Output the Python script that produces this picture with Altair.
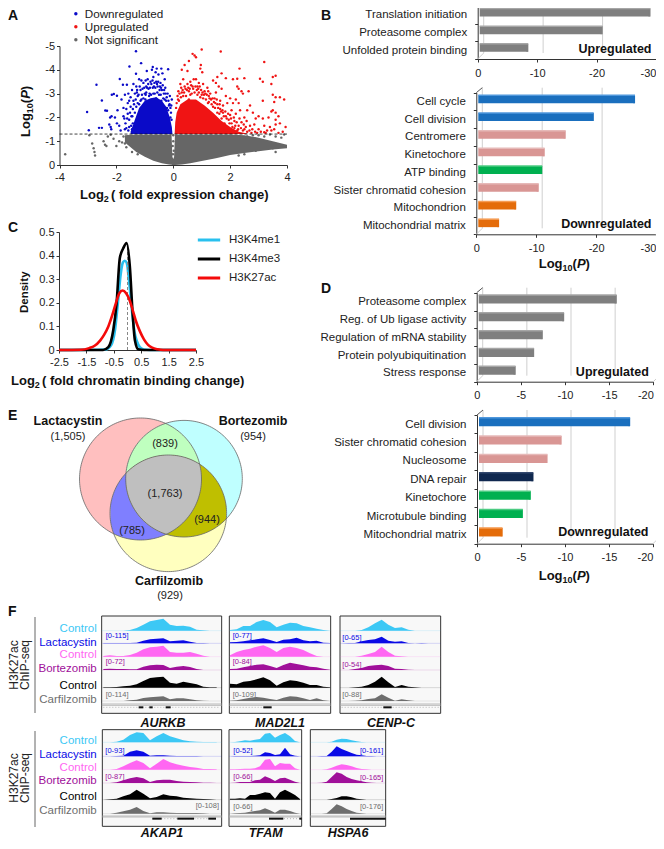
import math
import altair as alt
import pandas as pd

FONT = "Liberation Sans"
W, H = 648, 832
def P(v):
    return v - 8

# ---------- A: volcano ----------
A_LEGEND = ["Downregulated", "Upregulated", "Not significant"]
A_COLORS = ["#0A0AC8", "#F01414", "#666666"]
GREY_CORE_X = [-1.7,-1.5,-1.3,-1,-.7,-.4,-.15,-.06,-.03,0,.03,.06,.3,.6,1,1.5,2,2.5,3,3.5,4]
GREY_CORE_LO = [.95,.75,.55,.35,.18,.07,.02,.01,0,0,0,0,.02,.07,.17,.28,.42,.5,.58,.65,.7]
GREY_CORE_HI = [1.25,1.27,1.28,1.28,1.28,1.28,1.28,1.28,.35,.25,.35,1.28,1.28,1.28,1.28,1.28,1.28,1.25,1.15,1.0,.85]
BLUE_CORE_X = [-1.5,-1.35,-1.2,-1.0,-.8,-.6,-.4,-.25,-.12,-.05,-.03]
BLUE_CORE_HI = [1.4,1.9,2.4,2.7,2.8,2.85,2.7,2.45,2.0,1.6,1.32]
RED_CORE_X = [.05,.07,.12,.25,.5,.8,1.1,1.4,1.7,2.0,2.3,2.6]
RED_CORE_HI = [1.32,1.8,2.2,2.55,2.75,2.75,2.5,2.2,1.85,1.6,1.4,1.32]
BLUE_PTS = [(-1.31,4.78),(-1.13,4.28),(-1.54,4.14),(-1.31,3.83),(-2.70,3.37),(-1.88,3.61),(-3.03,2.23),(-2.97,1.46),
(-2.61,1.56),(-2.51,1.56),(-2.51,2.71),(-2.39,2.29),(-2.33,2.28),(-1.98,2.91),(-2.16,2.95),(-2.09,2.98),(-1.77,3.37),
(-1.63,3.37),(-2.22,2.0),(-2.17,2.05),(-2.25,1.7),(-2.2,1.6),(-2.18,1.5),(-2.05,2.0),(-1.98,1.75),(-1.96,2.3),(-1.9,1.65),
(-1.85,1.45),(-1.82,2.75),(-1.75,2.4),(-1.75,2.05),(-1.7,2.95),(-1.68,1.75),(-1.65,1.55),(-1.6,2.6),(-1.6,2.15),(-1.58,3.0),
(-1.55,1.9),(-1.5,2.85),(-1.5,2.45),(-1.47,2.05),(-1.45,3.15),(-1.42,1.75),(-1.4,2.7),(-1.35,3.0),(-1.3,3.3),(-1.3,2.45),
(-1.25,2.9),(-1.2,3.6),(-1.15,3.15),(-1.12,3.55),(-1.05,3.45),(-1.05,2.8),(-1.0,3.0),(-0.95,3.3),(-0.93,3.95),(-0.9,3.6),
(-0.87,3.2),(-0.85,2.9),(-0.8,3.5),(-0.75,4.0),(-0.72,4.12),(-0.7,3.7),(-0.68,3.3),(-0.65,3.0),(-0.62,3.9),(-0.6,3.5),
(-0.58,4.05),(-0.55,3.3),(-0.52,3.8),(-0.5,2.95),(-0.45,3.45),(-0.42,4.05),(-0.4,3.15),(-0.38,3.85),(-0.35,2.8),(-0.3,3.6),
(-0.28,3.25),(-0.25,2.7),(-0.2,3.0),(-0.18,4.02),(-0.15,2.5),(-0.12,2.9),(-0.08,2.2),(-0.05,2.75),(-1.55,1.6),(-1.45,1.5),
(-1.35,2.2),(-1.25,2.6),(-1.15,2.7),(-1.4,3.4),(-1.1,2.95),(-0.98,2.75),(-0.78,2.95),(-0.6,2.8),(-0.42,2.7),(-0.22,2.4),
(-0.1,2.0),(-1.65,2.35),(-1.55,2.7),(-1.28,3.05),(-0.95,3.05),(-0.72,3.25),(-0.48,3.15),(-0.33,3.0),
(-1.62,1.95),(-1.58,1.45),(-1.52,2.2),(-1.48,1.65),(-1.42,2.35),(-1.38,2.55),(-1.32,2.75),(-1.27,3.15),(-1.22,2.95),(-1.18,3.3),
(-1.08,3.2),(-1.02,3.25),(-0.97,3.55),(-0.92,3.25),(-0.88,3.4),(-0.82,3.25),(-0.77,3.4),(-0.73,3.55),(-0.66,3.45),(-0.63,3.25),
(-0.57,3.4),(-0.53,3.5),(-0.47,3.3),(-0.43,3.25),(-0.37,3.35),(-0.32,3.15),(-0.27,3.0),(-0.23,2.85),(-0.17,2.7),(-0.13,2.55),
(-0.1,2.4),(-0.07,2.5),(-0.06,1.9),(-1.7,1.5),(-1.72,1.95),
(-1.12,2.75),(-0.97,2.95),(-0.83,3.0),(-0.7,3.0),(-0.56,3.05),(-0.44,2.95),(-0.3,2.75),(-0.18,2.3),(-1.2,2.55),(-1.44,2.05)]
RED_PTS = [(1.0,4.85),(0.68,4.67),(0.75,4.6),(0.8,4.53),(1.67,4.77),(0.55,4.37),(0.4,4.2),(0.3,4.0),(0.5,3.95),(0.95,4.05),
(0.97,4.2),(1.02,3.9),(3.2,4.33),(2.33,4.05),(1.7,3.85),(1.55,3.7),(1.85,3.65),(2.1,3.6),(2.25,3.62),(2.5,3.65),(2.25,3.3),
(2.3,3.2),(2.4,3.1),(2.45,3.0),(2.65,3.1),(3.05,3.62),(3.15,3.5),(3.5,3.7),(3.6,3.75),(3.45,3.4),(3.5,2.95),(3.6,2.85),
(3.75,2.85),(3.9,2.75),(3.15,2.7),(3.55,2.65),(3.5,2.3),(3.6,2.2),(3.45,2.25),(3.95,1.6),(3.75,1.75),(3.6,1.7),(3.4,1.6),
(3.3,1.45),(3.45,1.45),(3.55,1.5),(3.0,1.5),(2.85,1.7),(2.9,1.95),(3.0,2.05),(3.15,1.95),(3.2,1.65),(2.7,1.65),(2.55,1.6),
(2.4,1.8),(2.5,2.0),(2.6,2.3),(2.35,2.3),(2.2,2.15),(2.05,2.3),(2.3,2.6),(2.2,2.75),(2.0,2.8),(1.9,2.6),(2.1,2.6),(1.85,2.9),
(1.7,3.2),(1.6,3.3),(1.5,3.45),(1.4,3.55),(1.3,3.0),(1.2,3.25),(1.1,3.1),(1.05,3.4),(0.9,3.45),(0.85,3.3),(0.8,3.6),(0.72,3.6),
(0.68,3.3),(0.6,3.5),(0.55,3.1),(0.5,3.4),(0.4,3.3),(0.35,3.6),(0.3,3.05),(0.25,3.4),(0.2,2.7),(0.15,2.9),(0.1,2.4),(1.25,2.9),
(1.45,2.8),(1.55,2.55),(1.65,2.35),(1.75,2.2),(1.85,2.05),(1.95,1.9),(2.05,1.75),(2.15,1.55),(2.25,1.45),(1.8,1.75),(2.45,1.45),
(2.6,1.4),(2.75,1.35),(2.95,1.35),(3.2,1.38),(3.7,1.35),(3.85,1.4),(1.0,2.95),(0.9,3.05),(0.75,3.05),(0.45,2.9),(1.15,2.75),
(1.35,2.55),(1.55,2.2),(1.7,1.95),(2.7,2.5),(2.8,2.2),(3.6,1.9),(0.65,3.0),(0.95,2.85),(0.55,2.75),(1.4,2.45),(1.25,2.65),
(1.65,2.7),(1.5,3.05),(1.75,2.5),(2.0,2.1),(2.15,1.85),(2.3,1.65),(2.5,1.5),
(0.18,3.1),(0.22,3.0),(0.28,3.25),(0.33,3.15),(0.38,3.05),(0.43,3.2),(0.48,3.15),(0.53,3.25),(0.58,3.2),(0.63,3.35),(0.7,3.2),
(0.78,3.3),(0.83,3.15),(0.88,3.2),(0.93,3.3),(0.98,3.15),(1.03,3.05),(1.08,2.95),(1.13,3.0),(1.18,2.95),(1.23,3.1),(1.28,2.8),
(1.33,2.75),(1.38,2.8),(1.43,2.65),(1.48,2.6),(1.53,2.75),(1.58,2.4),(1.63,2.55),(1.68,2.25),(1.73,2.3),(1.78,2.05),(1.83,2.25),
(1.88,1.95),(1.93,2.15),(1.98,1.75),(2.03,1.95),(2.08,1.6),(2.13,2.0),(2.18,1.65),(2.23,1.8),(2.28,1.5),(2.33,1.95),(2.38,1.55),
(2.48,1.7),(2.58,1.85),(2.68,1.45),(2.78,1.5),(2.88,1.4),(3.08,1.4),(3.25,1.35),(3.35,2.0),(3.7,2.05),
(0.12,2.6),(0.17,2.75),(0.27,2.85),(0.35,2.9),(0.6,2.95),(0.85,2.95),(1.05,2.8),(1.22,2.6),(1.47,2.4),(1.62,2.15)]
GREY_PTS = [(-3.8,0.45),(-2.85,0.9),(-2.8,0.7),(-2.77,0.55),(-2.75,0.4),(-2.95,1.25),(-2.45,1.0),(-2.4,0.85),(-2.35,0.8),
(-2.1,1.1),(-2.0,0.8),(-1.9,1.0),(-1.75,1.2),(-1.7,0.9),(-1.65,0.75),(-1.55,1.05),(-1.45,0.55),(-1.35,0.7),(-1.25,0.45),
(-1.8,0.95),(-2.3,1.2),(-2.2,1.27),(0.0,1.25),(0.0,1.0),(-0.02,0.8),(0.02,0.6),(-0.01,0.45),(3.0,1.25),(3.2,1.2),(3.4,1.28),
(3.6,1.2),(3.8,1.15),(3.9,1.28),(3.5,0.7),(3.6,0.55),(2.6,1.2),(2.8,1.25),(2.5,0.45),(2.3,0.4),(2.9,0.6)]

# ---------- C: density ----------
BLACK_X = [-2.5,-.89,-.7,-.52,-.4,-.28,-.16,-.03,.085,.18,.27,.39,.6,2.5]
BLACK_Y = [0,0,.012,.084,.197,.39,.43,.453,.354,.169,.041,.003,0,0]
CYAN_X = [-2.5,-.8,-.6,-.45,-.35,-.25,-.17,-.1,-.03,.05,.15,.25,.35,.45,.6,.8,2.5]
CYAN_Y = [0,.002,.02,.09,.2,.32,.37,.378,.37,.3,.18,.08,.035,.012,.002,0,0]
RED_X = [-2.5,-1.7,-1.4,-1.2,-1.0,-.85,-.7,-.55,-.42,-.3,-.18,-.05,.08,.2,.3,.45,.6,.75,.9,1.1,1.3,2.5]
RED_Y = [0,.001,.008,.018,.04,.065,.1,.15,.2,.24,.252,.24,.21,.165,.125,.08,.045,.022,.01,.003,0,0]
C_NAMES = ["H3K4me1", "H3K4me3", "H3K27ac"]
C_COLORS = ["#29C0EE", "#000000", "#F40A0A"]

# ---------- B / D: bars ----------
GROUPS = ["none", "cycle", "centro", "atp", "mito", "repair"]
FACE = ["#7F7F7F", "#1A6FBE", "#D99694", "#00B050", "#E46C0A", "#10284F"]
SIDE = ["#555555", "#124E87", "#A86A68", "#007A38", "#A34C06", "#0A1A33"]
TOP = ["#A6A6A6", "#4F97DC", "#E6B9B8", "#4CCB82", "#F59D56", "#33486E"]
B1_TERMS = ["Translation initiation", "Proteasome complex", "Unfolded protein binding\u00a0"]
B1_VALS = [-29.05, -21.0, -8.5]
B1_GRP = ["none", "none", "none"]
B2_TERMS = ["Cell cycle\u00a0", "Cell division", "Centromere", "Kinetochore", "ATP binding",
            "Sister chromatid cohesion", "Mitochondrion", "Mitochondrial matrix"]
B2_VALS = [-26.5, -19.6, -14.9, -11.4, -11.0, -10.4, -6.65, -3.8]
B2_GRP = ["cycle", "cycle", "centro", "centro", "atp", "centro", "mito", "mito"]
D1_TERMS = ["Proteasome complex", "Reg. of Ub ligase activity", "Regulation of mRNA stability",
            "Protein polyubiquitination", "Stress response\u00a0"]
D1_VALS = [-15.85, -9.9, -7.47, -6.5, -4.4]
D1_GRP = ["none"] * 5
D2_TERMS = ["Cell division", "Sister chromatid cohesion", "Nucleosome", "DNA repair", "Kinetochore",
            "Microtubule binding", "Mitochondrial matrix"]
D2_VALS = [-17.4, -9.6, -8.0, -6.4, -6.1, -5.2, -2.9]
D2_GRP = ["cycle", "centro", "centro", "repair", "atp", "atp", "mito"]

# ---------- E: Venn ----------
VENN_CX = [140.5, 184.0, 168.3]
VENN_CY = [479.0, 478.7, 513.3]
VENN_R = [61.0, 58.3, 58.3]
VENN_FILL = ["#FFBFBF", "#BFFFFF", "#FFFFBF"]
VENN_PAIRS = [((0, 1), "#BFFFBF"), ((0, 2), "#7F7FFF"), ((1, 2), "#BFBF00"), ((0, 1, 2), "#BFBFBF")]
VENN_TXT = [("Lactacystin", 68, 421, True), ("(1,505)", 68, 436, False), ("Bortezomib", 253, 421, True),
            ("(954)", 253, 436, False), ("Carfilzomib", 169, 581, True), ("(929)", 170, 595, False),
            ("(839)", 165, 443, False), ("(1,763)", 165, 493, False), ("(785)", 132, 530, False), ("(944)", 207, 519, False)]

# ---------- F: tracks (heights in reference zoom units) ----------
TRACK_COLORS = ["#3CC8F5", "#0A0AE6", "#FF66F2", "#A0109A", "#000000", "#6E6E6E"]
TRACK_NAMES = ["Control", "Lactacystin", "Control", "Bortezomib", "Control", "Carfilzomib"]
AURKB_X = [310,330,350,370,390,410,430,450,470,490,510,530,550,570,590,610,630,650]
AURKB = [[0,0,0,0,2,8,18,28,32,36,18,14,15,12,3,1,0,0],[1,1,1,1,1,2,8,12,14,15,6,8,9,5,1,1,0,0],
         [2,4,2,2,5,12,22,28,30,33,14,12,12,14,9,3,0,0],[3,4,3,3,2,2,10,14,16,15,6,10,12,9,3,0,0,0],
         [1,1,2,4,6,10,20,29,31,33,15,12,18,14,10,3,1,1],[0,0,0,0,2,4,9,11,13,14,5,8,8,5,2,1,0,0]]
MAD2L1_X = [690,710,730,750,770,790,810,830,850,870,890,910,930,950,970,990]
MAD2L1 = [[2,4,14,14,26,32,26,10,18,24,22,14,10,6,2,0],[3,4,6,9,12,15,10,4,11,12,17,9,6,8,2,1],
          [4,14,20,24,30,34,26,14,26,30,26,20,10,2,0,0],[3,4,8,12,16,17,12,6,15,22,18,14,10,8,4,1],
          [12,10,18,20,25,31,22,6,16,22,20,15,8,8,3,1],[1,2,6,10,12,10,6,3,10,14,13,8,3,8,2,0]]
CENPC_X = [1025,1045,1065,1085,1105,1125,1145,1165,1185,1205,1225,1245,1265,1285,1305,1320]
CENPC = [[0,0,0,2,10,22,33,18,8,10,3,0,0,0,0,0],[0,1,1,6,10,12,20,8,5,6,1,0,1,0,0,0],
         [0,0,0,3,8,14,30,14,3,1,0,0,0,0,0,0],[0,0,3,6,12,14,16,12,4,3,1,0,0,0,0,0],
         [0,0,1,3,8,18,33,16,2,8,3,1,0,0,0,0],[0,0,1,2,6,8,20,10,1,5,2,0,0,0,0,0]]
AKAP1_X = [310,330,350,370,390,410,430,450,470,490,510,530,550,570,590,610,630,650]
AKAP1 = [[0,0,2,8,22,30,28,6,18,28,18,12,6,3,2,1,1,1],[0,0,1,2,14,18,14,2,3,3,2,1,1,1,1,0,0,0],
         [0,0,2,10,20,28,20,4,18,32,22,16,12,8,6,2,2,1],[0,0,2,8,14,18,14,3,8,10,10,6,4,3,2,1,1,0],
         [0,1,3,10,16,30,18,4,8,16,12,10,6,4,3,2,1,0],[0,0,3,7,12,20,8,1,4,4,3,2,2,2,2,1,0,0]]
TFAM_X = [690,705,720,735,750,765,780,795,810,825,840,855,870,885,900]
TFAM = [[0,1,3,6,5,8,10,26,28,14,22,28,18,4,0],[0,1,1,1,1,2,3,12,10,4,6,26,6,2,0],
        [1,1,2,3,3,4,10,30,32,10,20,18,18,4,0],[0,1,3,3,3,8,10,20,14,6,14,16,10,4,0],
        [3,3,4,3,14,14,18,22,20,3,22,30,22,14,2],[0,1,2,3,6,8,10,16,10,3,12,12,8,3,0]]
HSPA6_X = [935,950,965,980,995,1010,1025,1040,1055,1070,1085,1100,1115,1130,1145]
HSPA6 = [[0,0,0,0,2,8,11,10,6,3,1,0,0,0,0],[0,0,1,1,14,30,22,16,10,5,3,1,1,0,0],
         [0,0,0,1,6,12,16,14,10,5,2,1,0,0,0],[0,0,1,4,18,32,28,18,12,8,5,2,1,0,0],
         [0,0,0,0,2,5,10,10,7,3,1,0,0,0,0],[0,0,0,1,14,28,22,14,8,3,1,0,0,0,0]]

ROW1 = dict(y0=600, bases=[92,130,170,210,263,303], top=48, bot=340, seps=[312,316], gene=322,
            label_y=[628,641.7,654,667.7,685,699], line=(617,713), title_y=723, side_y=665)
ROW2 = dict(y0=718, bases=[73,115,155,195,245,287], top=35, bot=325, seps=[294,297], gene=302,
            label_y=[740,753.7,766.7,780,796,809.7], line=(731,827), title_y=833, side_y=778)
BOXES = [
    ("AURKB", ROW1, 305, 665, 163, AURKB_X, AURKB, [(416,430),(448,458),(497,512)], (310,660),
     [("[0-115]",317,106,1,"left"),("[0-72]",317,183,3,"left"),("[0-114]",317,282,5,"left")]),
    ("MAD2L1", ROW1, 688, 992, 280, MAD2L1_X, MAD2L1, [(790,815)], (692,815),
     [("[0-77]",698,105,1,"left"),("[0-84]",698,183,3,"left"),("[0-109]",698,282,5,"left")]),
    ("CENP-C", ROW1, 1020, 1322, 391, CENPC_X, CENPC, [(1150,1175)], (1025,1320),
     [("[0-65]",1027,113,1,"left"),("[0-54]",1027,193,3,"left"),("[0-88]",1027,282,5,"left")]),
    ("AKAP1", ROW2, 307, 665, 162, AKAP1_X, AKAP1, [(457,485),(532,582),(625,648)], (457,648),
     [("[0-93]",316,97,1,"left"),("[0-87]",316,175,3,"left"),("[0-108]",657,263,5,"right")]),
    ("TFAM", ROW2, 687, 905, 265.7, TFAM_X, TFAM, [(807,850),(898,905)], (807,905),
     [("[0-52]",700,97,1,"left"),("[0-66]",700,175,3,"left"),("[0-66]",700,264,5,"left")]),
    ("HSPA6", ROW2, 931, 1157, 348, HSPA6_X, HSPA6, [(1050,1157)], (1050,1157),
     [("[0-161]",1150,97,1,"right"),("[0-165]",1150,177,3,"right"),("[0-176]",1150,264,5,"right")]),
]
LETTERS = [("A", 15), ("C", 227), ("E", 415), ("F", 611)]
LETTERS_R = [("B", 15), ("D", 288)]

ONE = pd.DataFrame({"a": [0]})
layers = []

def txt(s, x, y, size=11, bold=False, italic=False, color="#222222", align="left", angle=0):
    kw = {}
    if angle:
        kw["angle"] = angle
    return alt.Chart(ONE).mark_text(text=s, font=FONT, fontSize=size, fontWeight="bold" if bold else "normal",
                                    fontStyle="italic" if italic else "normal", color=color, align=align,
                                    baseline="alphabetic", **kw).encode(x=alt.value(P(x)), y=alt.value(P(y)))

def logp(x, y, vertical=False):
    parts = [("Log", 13, False, 0, 0), ("10", 9, False, 3, 23.8), ("(", 13, False, 0, 33.8),
             ("P", 13, True, 0, 38.2), (")", 13, False, 0, 46.8)]
    out = []
    for s, sz, it, d, adv in parts:
        if vertical:
            out.append(txt(s, x + d, y - adv, sz, True, it, "#111111", angle=270))
        else:
            out.append(txt(s, x + adv, y + d, sz, True, it, "#111111"))
    return out

def log2title(rest, x, y):
    return [txt("Log", x, y, 13, True, color="#111111"), txt("2", x + 23.8, y + 3, 9, True, color="#111111"),
            txt(rest, x + 31, y, 13, True, color="#111111")]

HYPHEN = "replace(datum.label, '\u2212', '-')"
AX = dict(domainColor="#333333", tickColor="#333333", labelColor="#222222", labelFont=FONT, labelFontSize=11,
          tickSize=3, title=None, grid=False, domainWidth=1, tickWidth=1, labelOverlap=False, labelFlush=False)

# ---- Panel A
xA = alt.Scale(domain=[-4, 4], range=[P(59.5), P(287)], nice=False, zero=False)
yA = alt.Scale(domain=[0, -5], range=[P(165), P(46)], nice=False, zero=False)
axAx = alt.Axis(orient="bottom", offset=P(165) - H, values=[-4, -2, 0, 2, 4], labelPadding=3, labelExpr=HYPHEN, **AX)
axAy = alt.Axis(orient="left", offset=-P(59.5), values=[0, -1, -2, -3, -4, -5], labelPadding=2, labelExpr=HYPHEN, **AX)
grey_df = pd.DataFrame({"x": GREY_CORE_X, "lo": [-v for v in GREY_CORE_LO], "hi": [-v for v in GREY_CORE_HI]})
blue_df = pd.DataFrame({"x": BLUE_CORE_X, "lo": -1.3, "hi": [-v for v in BLUE_CORE_HI]})
red_df = pd.DataFrame({"x": RED_CORE_X, "lo": -1.3, "hi": [-v for v in RED_CORE_HI]})
pts = [dict(x=a, y=-b, g=A_LEGEND[0]) for a, b in BLUE_PTS] + [dict(x=a, y=-b, g=A_LEGEND[1]) for a, b in RED_PTS] + \
      [dict(x=a, y=-b, g=A_LEGEND[2]) for a, b in GREY_PTS]
def core(df, c):
    return alt.Chart(df).mark_area(color=c, opacity=1).encode(
        x=alt.X("x:Q", scale=xA, axis=axAx), y=alt.Y("lo:Q", scale=yA, axis=axAy), y2="hi:Q")
panelA = alt.layer(
    alt.Chart(pd.DataFrame(pts)).mark_circle(size=6, opacity=1).encode(
        x=alt.X("x:Q", scale=xA, axis=axAx), y=alt.Y("y:Q", scale=yA, axis=axAy),
        color=alt.Color("g:N", scale=alt.Scale(domain=A_LEGEND, range=A_COLORS),
                        legend=alt.Legend(orient="none", legendX=P(70), legendY=P(8), title=None, labelFont=FONT,
                                          labelFontSize=11.7, labelColor="#222222", symbolSize=12, symbolType="circle",
                                          rowPadding=0, labelOffset=3, symbolOffset=0, padding=0))),
    core(grey_df, A_COLORS[2]), core(blue_df, A_COLORS[0]), core(red_df, A_COLORS[1]),
    alt.Chart(pd.DataFrame({"y": [-1.3]})).mark_rule(color="#111111", strokeDash=[3, 2], strokeWidth=0.8).encode(
        y=alt.Y("y:Q", scale=yA, axis=axAy), x=alt.value(P(59.5)), x2=alt.value(P(287))),
)
layers.append(panelA)
layers += logp(30, 137, True)
layers += log2title("( fold expression change)", 80, 199)

# ---- Panel C
xC = alt.Scale(domain=[-2.5, 2.5], range=[P(59), P(196)], nice=False, zero=False)
yC = alt.Scale(domain=[0, 0.5], range=[P(350), P(232)], nice=False, zero=False)
axCx = alt.Axis(orient="bottom", offset=P(350) - H, values=[-2.5, -1.5, -0.5, 0.5, 1.5, 2.5], format=".1f", labelExpr=HYPHEN, labelPadding=3, **AX)
axCy = alt.Axis(orient="left", offset=-P(59), values=[0, .1, .2, .3, .4, .5], format="~g", labelPadding=2, **AX)
curves = []
for n, xs, ys in [(C_NAMES[0], CYAN_X, CYAN_Y), (C_NAMES[1], BLACK_X, BLACK_Y), (C_NAMES[2], RED_X, RED_Y)]:
    curves += [dict(x=a, y=b, n=n, o=i) for i, (a, b) in enumerate(zip(xs, ys))]
curve_df = pd.DataFrame(curves)
def cline(name):
    return alt.Chart(curve_df[curve_df.n == name]).mark_line(strokeWidth=2.6, interpolate="monotone").encode(
        x=alt.X("x:Q", scale=xC, axis=axCx),
        y=alt.Y("y:Q", scale=yC, axis=axCy),
        order="o:Q",
        color=alt.Color("n:N", scale=alt.Scale(domain=C_NAMES, range=C_COLORS),
                        legend=alt.Legend(orient="none", legendX=P(196), legendY=P(227), title=None, labelFont=FONT,
                                          labelFontSize=11.5, labelColor="#222222", symbolType="stroke", symbolSize=500,
                                          symbolStrokeWidth=3, rowPadding=-6, padding=0, labelOffset=7)))
panelC = alt.layer(
    cline(C_NAMES[0]),
    alt.Chart(pd.DataFrame({"x": [0, 0], "y": [0, 0.45]})).mark_line(color="#888888", strokeDash=[3, 2], strokeWidth=1).encode(
        x=alt.X("x:Q", scale=xC, axis=axCx), y=alt.Y("y:Q", scale=yC, axis=axCy)),
    cline(C_NAMES[1]), cline(C_NAMES[2]),
)
layers.append(panelC)
layers += log2title("( fold chromatin binding change)", 11, 385)
layers.append(txt("Density", 28, 313, 11.5, True, color="#111111", angle=270))

# ---- Bars
def bars(terms, vals, grp, x0, x1, ytop, ybot, dom, ticks, h, word, word_y):
    xs = alt.Scale(domain=[0, dom], range=[P(x0), P(x1)], nice=False, zero=False)
    ys = alt.Scale(domain=terms, range=[P(ytop), P(ybot)], paddingInner=0, paddingOuter=0)
    ys2 = alt.Scale(domain=terms, range=[P(ytop) - 2.3, P(ybot) - 2.3], paddingInner=0, paddingOuter=0)
    ys3 = alt.Scale(domain=terms, range=[P(ytop) - 2.3 - h / 2, P(ybot) - 2.3 - h / 2], paddingInner=0, paddingOuter=0)
    df = pd.DataFrame({"t": terms, "v": vals, "g": grp, "z": 0})
    grid = pd.DataFrame({"x": [t for t in ticks if t != 0]})
    axx = alt.Axis(orient="bottom", offset=P(ybot) - H, values=ticks, labelPadding=5, labelExpr=HYPHEN,
                   labelAlign={"condition": {"test": f"datum.value == {dom}", "value": "right"}, "value": "center"}, **AX)
    axy = alt.Axis(orient="left", offset=-P(x0), tickBand="extent", labelPadding=8, labelOffset=0, labelLimit=200,
                   **{**AX, "labelFontSize": 11.5})
    def col(rng):
        return alt.Color("g:N", scale=alt.Scale(domain=GROUPS, range=rng), legend=None)
    wall = alt.Chart(grid).mark_rule(color="#CFCFCF", strokeWidth=1, xOffset=6).encode(
        x=alt.X("x:Q", scale=xs, axis=axx), y=alt.value(P(ytop - 5)), y2=alt.value(P(ybot - 6)))
    ghost = alt.Chart(df).mark_bar(opacity=0).encode(
        x=alt.X("v:Q", scale=xs, axis=axx), y=alt.Y("t:N", scale=ys, axis=axy, sort=None))
    backline = alt.Chart(ONE).mark_rule(color="#CFCFCF", strokeWidth=1).encode(
        x=alt.value(P(x0 + 6)), y=alt.value(P(ytop - 5)), y2=alt.value(P(ybot - 6)))
    diag_top = alt.Chart(ONE).mark_rule(color="#555555", strokeWidth=1).encode(
        x=alt.value(P(x0)), x2=alt.value(P(x0 + 6)), y=alt.value(P(ytop)), y2=alt.value(P(ytop - 5)))
    diag_bot = alt.Chart(ONE).mark_rule(color="#CFCFCF", strokeWidth=1).encode(
        x=alt.value(P(x0)), x2=alt.value(P(x0 + 6)), y=alt.value(P(ybot)), y2=alt.value(P(ybot - 6)))
    diag_r = alt.Chart(ONE).mark_rule(color="#CFCFCF", strokeWidth=1).encode(
        x=alt.value(P(x1)), x2=alt.value(P(x1 + 6)), y=alt.value(P(ybot)), y2=alt.value(P(ybot - 6)))
    face = alt.Chart(df).mark_bar(size=h, xOffset=2).encode(
        x=alt.X("z:Q", scale=xs, axis=None), x2="v:Q",
        y=alt.Y("t:N", scale=ys2, axis=None, sort=None), color=col(FACE))
    side = alt.Chart(df).mark_tick(orient="vertical", size=h, thickness=2, xOffset=-1).encode(
        x=alt.X("v:Q", scale=xs, axis=None), y=alt.Y("t:N", scale=ys2, axis=None, sort=None), color=col(SIDE))
    top = alt.Chart(df).mark_bar(size=1.5, xOffset=2).encode(
        x=alt.X("z:Q", scale=xs, axis=None), x2="v:Q",
        y=alt.Y("t:N", scale=ys3, axis=None, sort=None), color=col(TOP))
    word_t = txt(word, min(x1 - 4.5, 652), word_y, 12.5, True, color="#111111", align="right")
    return [backline, diag_top, diag_bot, diag_r, alt.layer(wall, ghost), alt.layer(face, side), top, word_t]

layers += bars(B1_TERMS, B1_VALS, B1_GRP, 477.7, 656, 6, 59, -30, [0, -10, -20, -30], 8, "Upregulated", 53)
layers += bars(B2_TERMS, B2_VALS, B2_GRP, 476.3, 656, 92.7, 234.3, -30, [0, -10, -20, -30], 8, "Downregulated", 228)
layers += logp(538.7, 268)
layers += bars(D1_TERMS, D1_VALS, D1_GRP, 476.7, 653.3, 292.7, 381.7, -20, [0, -5, -10, -15, -20], 8.5, "Upregulated", 376)
layers += bars(D2_TERMS, D2_VALS, D2_GRP, 477, 653, 415, 543.7, -20, [0, -5, -10, -15, -20], 8.5, "Downregulated", 536)
layers += logp(538.7, 580)

# ---- Venn
sx = alt.Scale(domain=[60, 260], range=[P(60), P(260)], nice=False, zero=False)
sy = alt.Scale(domain=[400, 600], range=[P(400), P(600)], nice=False, zero=False)
def region(ids, color):
    x_lo = max(VENN_CX[i] - VENN_R[i] for i in ids)
    x_hi = min(VENN_CX[i] + VENN_R[i] for i in ids)
    rows = []
    n = 240
    for k in range(n + 1):
        x = x_lo + (x_hi - x_lo) * k / n
        lo, hi = -1e9, 1e9
        for i in ids:
            d = math.sqrt(max(VENN_R[i] ** 2 - (x - VENN_CX[i]) ** 2, 0))
            lo = max(lo, VENN_CY[i] - d)
            hi = min(hi, VENN_CY[i] + d)
        if hi > lo:
            rows.append(dict(x=x, lo=lo, hi=hi))
    return alt.Chart(pd.DataFrame(rows)).mark_area(color=color, opacity=1).encode(
        x=alt.X("x:Q", scale=sx, axis=None), y=alt.Y("lo:Q", scale=sy, axis=None), y2="hi:Q")
venn = [region((i,), VENN_FILL[i]) for i in range(3)] + [region(ids, c) for ids, c in VENN_PAIRS]
rows = []
for i in range(3):
    for k in range(181):
        a = 2 * math.pi * k / 180
        rows.append(dict(x=VENN_CX[i] + VENN_R[i] * math.cos(a), y=VENN_CY[i] + VENN_R[i] * math.sin(a), c=i, o=k))
venn.append(alt.Chart(pd.DataFrame(rows)).mark_line(color="#666666", strokeWidth=0.8).encode(
    x=alt.X("x:Q", scale=sx, axis=None), y=alt.Y("y:Q", scale=sy, axis=None), detail="c:N", order="o:Q"))
layers.append(alt.layer(*venn))
for s, x, y, b in VENN_TXT:
    layers.append(txt(s, x, y + 4, 12.5 if b else 11, b, color="#111111" if b else "#222222", align="center"))

# ---- Tracks
def zy(row, z):
    return row["y0"] + z / 3.0
for name, row, zl, zr, tx, xs, profiles, exons, intron, tags in BOXES:
    xl, xr = zl / 3.0, zr / 3.0
    xscale = alt.Scale(domain=[zl, zr], range=[P(xl), P(xr)], nice=False, zero=False)
    layers.append(alt.Chart(ONE).mark_rect(fill="#F8F8F8", stroke="#333333", strokeWidth=1).encode(
        x=alt.value(P(xl)), x2=alt.value(P(xr)), y=alt.value(P(zy(row, row["top"]))), y2=alt.value(P(zy(row, row["bot"])))))
    for i, hs in enumerate(profiles):
        b = row["bases"][i]
        yscale = alt.Scale(domain=[0, 40], range=[P(zy(row, b)), P(zy(row, b - 40))], nice=False, zero=False)
        layers.append(alt.Chart(pd.DataFrame({"x": xs, "h": hs})).mark_area(color=TRACK_COLORS[i], opacity=1).encode(
            x=alt.X("x:Q", scale=xscale, axis=None), y=alt.Y("h:Q", scale=yscale, axis=None)))
        layers.append(alt.Chart(ONE).mark_rule(color=TRACK_COLORS[i], opacity=0.2, strokeWidth=0.7).encode(
            x=alt.value(P(xl)), x2=alt.value(P(xr)), y=alt.value(P(zy(row, b)))))
    for s in row["seps"]:
        layers.append(alt.Chart(ONE).mark_rule(color="#AAAAAA", strokeWidth=0.8).encode(
            x=alt.value(P(xl)), x2=alt.value(P(xr)), y=alt.value(P(zy(row, s)))))
    gene_y = P(zy(row, row["gene"]))
    layers.append(alt.Chart(pd.DataFrame({"a": [intron[0]], "b": [intron[1]]})).mark_rule(
        color="#777777", strokeWidth=0.5, strokeDash=[1, 2]).encode(
        x=alt.X("a:Q", scale=xscale, axis=None), x2="b:Q", y=alt.value(gene_y)))
    layers.append(alt.Chart(pd.DataFrame({"a": [e[0] for e in exons], "b": [e[1] for e in exons]})).mark_rule(
        color="#111111", strokeWidth=2).encode(
        x=alt.X("a:Q", scale=xscale, axis=None), x2="b:Q", y=alt.value(gene_y)))
    for s, zx, z, ci, al in tags:
        layers.append(txt(s, zx / 3.0, zy(row, z) + 2.5, 7.5, color=TRACK_COLORS[ci] if ci != 4 else "#111111", align=al))
    layers.append(txt(name, tx, row["title_y"] + 4, 12.5, True, True, "#111111", align="center"))

for row in (ROW1, ROW2):
    for i, n in enumerate(TRACK_NAMES):
        layers.append(txt(n, 96.7, row["label_y"][i] + 4, 11.5, color=TRACK_COLORS[i], align="right"))
    layers.append(alt.Chart(ONE).mark_rule(color="#666666", strokeWidth=1).encode(
        x=alt.value(P(35)), y=alt.value(P(row["line"][0])), y2=alt.value(P(row["line"][1]))))
    layers.append(txt("H3K27ac", 18, row["side_y"], 12, color="#222222", align="center", angle=270))
    layers.append(txt("ChIP-seq", 29, row["side_y"], 12, color="#222222", align="center", angle=270))

for s, y in LETTERS:
    layers.append(txt(s, 8, y + 5, 14, True, color="#111111"))
for s, y in LETTERS_R:
    layers.append(txt(s, 321, y + 5, 14, True, color="#111111"))

chart = alt.layer(*layers).resolve_scale(x="independent", y="independent", color="independent").properties(
    width=W, height=H, padding=0, autosize=alt.AutoSizeParams(type="none")
).configure_view(stroke=None)

chart.save("out.html", embed_options={"renderer": "svg", "actions": False})
